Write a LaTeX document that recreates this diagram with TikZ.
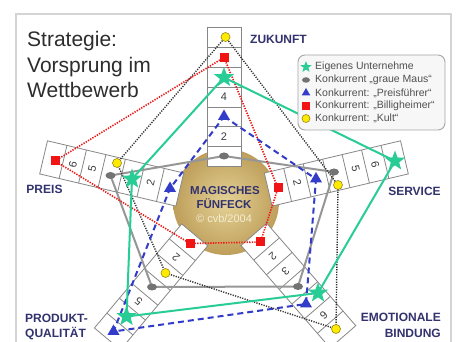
\documentclass[tikz,border=0pt]{standalone}
\usepackage{fontspec}
\setmainfont{Liberation Sans}
\usetikzlibrary{shapes.geometric}
\definecolor{gr}{RGB}{40,205,150}
\definecolor{bl}{RGB}{50,60,200}
\definecolor{rd}{RGB}{240,20,20}
\definecolor{lgray}{RGB}{150,150,150}
\definecolor{mgray}{RGB}{115,115,115}
\definecolor{bargray}{RGB}{135,135,135}
\definecolor{navy}{RGB}{50,50,110}
\definecolor{numc}{RGB}{60,60,60}
\definecolor{goldL}{RGB}{228,210,150}
\definecolor{goldD}{RGB}{190,158,90}
\definecolor{cream}{RGB}{245,236,210}
\definecolor{ylw}{RGB}{255,235,0}
\definecolor{ylwd}{RGB}{150,135,20}
\definecolor{framec}{RGB}{212,212,212}
\definecolor{titlec}{RGB}{45,45,45}
\definecolor{legc}{RGB}{80,80,80}
\begin{document}
\begin{tikzpicture}[x=1pt,y=-1pt,
  barbox/.style={fill=white, draw=bargray, line width=0.8pt},
  bardiv/.style={draw=bargray, line width=0.8pt},
  numtxt/.style={font=\fontsize{11}{11}\selectfont, text=numc, inner sep=0pt},
  axlabel/.style={font=\fontsize{12}{13}\selectfont\bfseries, text=navy, inner sep=0pt},
  titletxt/.style={font=\fontsize{21}{25}\selectfont, text=titlec, inner sep=0pt, anchor=base west},
  legtxt/.style={font=\fontsize{10.5}{11}\selectfont, text=legc, inner sep=0pt, anchor=west},
  gline/.style={draw=gr, line width=2pt, line join=round},
  grayline/.style={draw=lgray, line width=2pt, line join=round},
  redline/.style={draw=rd, line width=1.6pt, dash pattern=on 1.3pt off 1.3pt},
  blueline/.style={draw=bl, line width=2pt, dash pattern=on 6pt off 4pt},
  yline/.style={draw=black!80, line width=1.4pt, dash pattern=on 1.2pt off 1.3pt},
  starm/.style={star, star points=5, star point ratio=2.4, minimum size=21pt, fill=gr, inner sep=0pt, draw=none},
  graym/.style={ellipse, minimum width=10pt, minimum height=7pt, fill=mgray, inner sep=0pt, draw=none},
  redm/.style={rectangle, minimum size=9pt, fill=rd, inner sep=0pt, draw=none},
  bluem/.style={regular polygon, regular polygon sides=3, minimum size=14pt, fill=bl, inner sep=0pt, draw=none},
  ylwm/.style={circle, minimum size=9pt, fill=ylw, draw=ylwd, line width=0.6pt, inner sep=0pt}
]
\useasboundingbox (0,0) rectangle (456,342);
\clip (0,0) rectangle (456,342);
\fill[white] (0,0) rectangle (456,342);
\draw[framec, line width=1.5pt] (16,14) rectangle (451,360);

% title
\node[titletxt] (t1) at (27,47) {Strategie:};
\node[titletxt] (t2) at (27,72.5) {Vorsprung im};
\node[titletxt] (t3) at (27,98) {Wettbewerb};

% golden centre
\shade[inner color=goldL, outer color=goldD] (226,202) circle[radius=53];

% bars
\foreach \nm/\rot/\ri/\L/\nums in {Z/90/33.5/19.83/{4,2}, S/13.3/45.4/20/{6,5,2}, E/-49/45.5/19.4/{2,3,6}, P/-130/45.5/19.4/{2,5}, R/166.7/45.4/20/{6,5,2}}{
  \begin{scope}[shift={(224,200)}, rotate=\rot]
    \draw[barbox] (\ri,-17) rectangle ({\ri+7*\L},17);
    \foreach \k in {1,...,6}{
      \draw[bardiv] ({\ri+\k*\L},-17) -- ({\ri+\k*\L},17);
    }
    \foreach \k in \nums{
      \node[numtxt, rotate=\rot-90] (n\nm\k) at ({\ri+(\k-0.5)*\L},0) {\k};
    }
  \end{scope}
}

% centre text
\node[font=\fontsize{11.5}{12}\selectfont\bfseries, text=navy, inner sep=0pt] (m1) at (225,191) {MAGISCHES};
\node[font=\fontsize{11.5}{12}\selectfont\bfseries, text=navy, inner sep=0pt] (m2) at (224,203.5) {FÜNFECK};
\node[font=\fontsize{11}{12}\selectfont, text=cream, inner sep=0pt] (m3) at (224,219) {© cvb/2004};

% data points
\coordinate (gZ) at (224,77.5);
\coordinate (gS) at (395,161);
\coordinate (gE) at (318,293);
\coordinate (gP) at (126.5,316.5);
\coordinate (gR) at (132,179);
\coordinate (hZ) at (224,156);
\coordinate (hS) at (334,172);
\coordinate (hE) at (298,286.5);
\coordinate (hP) at (152,287);
\coordinate (hR) at (110.5,175.5);
\coordinate (rZ) at (224,57.5);
\coordinate (rS) at (278,188);
\coordinate (rE) at (260.5,242);
\coordinate (rP) at (190,243.5);
\coordinate (rR) at (55,161);
\coordinate (bZ) at (224,116.5);
\coordinate (bS) at (316,179);
\coordinate (bE) at (306,304);
\coordinate (bP) at (113.5,331.5);
\coordinate (bR) at (170,188.5);
\coordinate (yZ) at (225.5,37);
\coordinate (yS) at (338,185);
\coordinate (yE) at (336,329);
\coordinate (yP) at (165.5,273);
\coordinate (yR) at (117,163);

% lines
\draw[grayline] (hZ) -- (hS) -- (hE) -- (hP) -- (hR) -- cycle;
\draw[yline] (yZ) -- (yS) -- (yE) -- (yP) -- (yR) -- cycle;
\draw[redline] (rZ) -- (rS) -- (rE) -- (rP) -- (rR) -- cycle;
\draw[blueline] (bZ) -- (bS) -- (bE) -- (bP) -- (bR) -- cycle;
\draw[gline] (gZ) -- (gS) -- (gE) -- (gP) -- (gR) -- cycle;

% markers
\foreach \p in {hZ,hS,hE,hP,hR}{\node[graym] (m-\p) at (\p) {};}
\foreach \p in {yZ,yS,yE,yP,yR}{\node[ylwm] (m-\p) at (\p) {};}
\foreach \p in {rZ,rS,rE,rP,rR}{\node[redm] (m-\p) at (\p) {};}
\foreach \p in {bZ,bS,bE,bP,bR}{\node[bluem] (m-\p) at (\p) {};}
\foreach \p in {gZ,gS,gE,gP,gR}{\node[starm] (m-\p) at (\p) {};}

% axis labels
\node[axlabel] (lz) at (278.5,39) {ZUKUNFT};
\node[axlabel] (ls) at (414.5,191) {SERVICE};
\node[axlabel] (lr) at (44.5,189) {PREIS};
\node[axlabel, anchor=west] (lp1) at (25,318.5) {PRODUKT-};
\node[axlabel, anchor=west] (lp2) at (25,334) {QUALITÄT};
\node[axlabel, anchor=east] (le1) at (441,317.5) {EMOTIONALE};
\node[axlabel, anchor=east] (le2) at (441,333) {BINDUNG};

% legend
\draw[fill=white!97!black, draw=black!35, line width=0.9pt, rounded corners=7pt] (298,55) rectangle (445,130);
\node[starm, minimum size=12pt] (k1) at (306,67) {};
\node[graym, minimum width=8pt, minimum height=5.5pt] (k2) at (306,80) {};
\node[bluem, minimum size=10pt] (k3) at (306,93) {};
\node[redm, minimum size=8pt] (k4) at (306,106) {};
\node[ylwm, minimum size=8pt] (k5) at (306,118.5) {};
\node[legtxt] (kt1) at (315,67) {Eigenes Unternehme};
\node[legtxt] (kt2) at (315,80) {Konkurrent „graue Maus“};
\node[legtxt] (kt3) at (315,93) {Konkurrent: „Preisführer“};
\node[legtxt] (kt4) at (315,106) {Konkurrent: „Billigheimer“};
\node[legtxt] (kt5) at (315,118.5) {Konkurrent: „Kult“};
\end{tikzpicture}
\end{document}
